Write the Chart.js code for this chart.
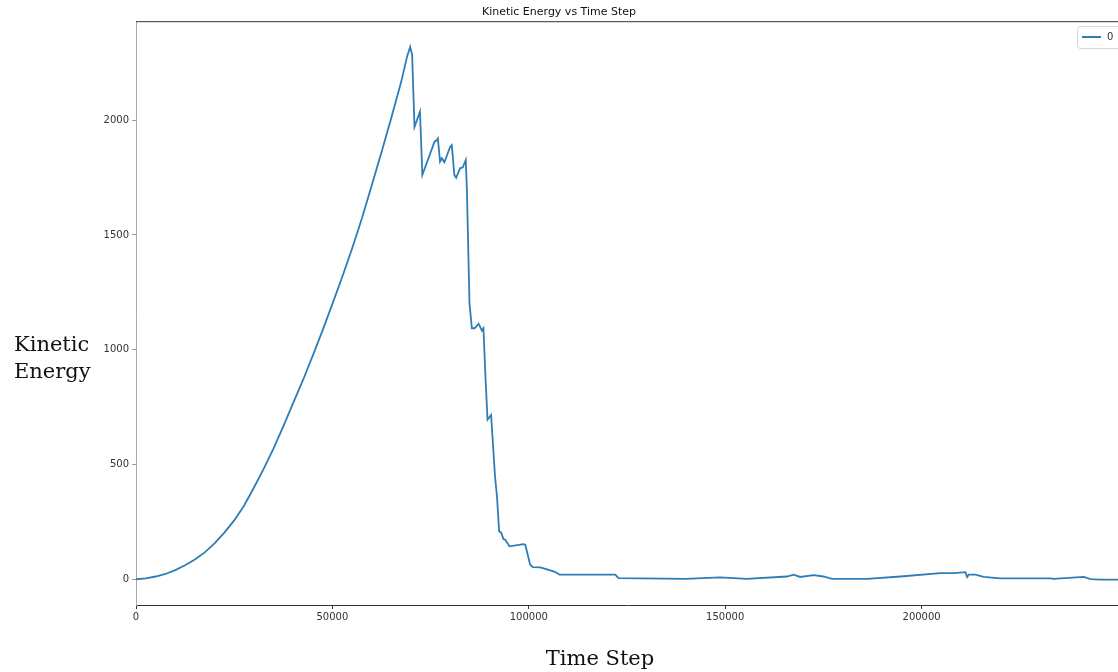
<!DOCTYPE html>
<html>
<head>
<meta charset="utf-8">
<script src="https://cdn.jsdelivr.net/npm/chart.js@4/dist/chart.umd.min.js"></script>
<style>
  html, body { margin: 0; padding: 0; background: #fff; }
  #wrap { width: 1118px; height: 672px; position: relative; }
</style>
</head>
<body>
<div id="wrap"><canvas id="myChart" width="1118" height="672"></canvas></div>
<script>
const chartTitle = "Kinetic Energy vs Time Step";
const xTitle = "Time Step";
const yTitle = ["Kinetic", "Energy"];
const seriesName = "0";

// time step (x) and kinetic energy (y)
const steps = [
  0, 2500, 5000, 7500, 10000, 12500, 15000, 17500, 20000, 22500,
  25000, 27500, 30000, 32500, 35000, 37500, 40000, 42500, 45000, 47500,
  50000, 52500, 55000, 57500, 60000, 62500, 65000, 67500, 69000, 69800,
  70300, 70900, 72300, 72900, 76000, 76600, 76850, 77400, 77850, 78500,
  80000, 80400, 81050, 81500, 82500, 83200, 83950, 84250, 84900, 85500,
  86200, 87200, 87600, 88050, 88450, 89000, 89500, 90400, 91400, 91900,
  92450, 92950, 93550, 94000, 95100, 98650, 99100, 100350, 101000, 102900,
  104200, 106300, 107300, 107800, 122000, 122850, 140000, 148750, 155500, 165700,
  167400, 169100, 172500, 175000, 177200, 186100, 194600, 204800, 208200, 211150,
  211600, 212000, 213700, 215800, 220000, 232800, 233600, 241300, 243000, 245500,
  250000
];
const energy = [
  2, 6, 14, 25, 42, 63, 88, 119, 158, 205,
  258, 322, 400, 482, 570, 667, 768, 868, 975, 1085,
  1200, 1317, 1440, 1572, 1715, 1860, 2010, 2165, 2275, 2318,
  2283, 1970, 2036, 1761, 1906, 1913, 1920, 1819, 1834, 1816,
  1884, 1891, 1761, 1749, 1790, 1794, 1826, 1696, 1203, 1094,
  1094, 1113, 1101, 1084, 1094, 870, 696, 717, 449, 362,
  210, 206, 177, 174, 145, 155, 152, 65, 55, 54,
  47, 36, 28, 22, 22, 7, 4, 10, 4, 14,
  22, 12, 20, 14, 4, 4, 14, 29, 29, 33,
  12, 22, 22, 12, 6, 6, 4, 12, 3, 0,
  0
];
const xTicks = [0, 50000, 100000, 150000, 200000];
const yTicks = [0, 500, 1000, 1500, 2000];

const lineColor = '#2f7db6';

const points = steps.map((s, i) => ({ x: s, y: energy[i] }));

// extra drawing: top spine, y label, x label, legend box
const extras = {
  id: 'extras',
  afterDraw(chart) {
    const ctx = chart.ctx;
    const a = chart.chartArea;
    ctx.save();
    ctx.strokeStyle = '#333';
    ctx.lineWidth = 1;
    ctx.beginPath();
    ctx.moveTo(a.left, a.top + 0.5);
    ctx.lineTo(a.right, a.top + 0.5);
    ctx.stroke();

    ctx.fillStyle = '#111';
    ctx.font = '21px "DejaVu Serif"';
    ctx.textAlign = 'left';
    ctx.textBaseline = 'alphabetic';
    ctx.fillText(yTitle[0], 14, 351);
    ctx.fillText(yTitle[1], 14, 378);
    ctx.textAlign = 'center';
    ctx.fillText(xTitle, 600, 665);

    // legend
    const bx = 1077, by = 26, bw = 50, bh = 22;
    ctx.fillStyle = 'rgba(255,255,255,0.9)';
    ctx.strokeStyle = '#d6d6d6';
    ctx.beginPath();
    ctx.roundRect(bx + 0.5, by + 0.5, bw, bh, 3);
    ctx.fill();
    ctx.stroke();
    ctx.strokeStyle = lineColor;
    ctx.lineWidth = 2;
    ctx.beginPath();
    ctx.moveTo(bx + 5, by + 11);
    ctx.lineTo(bx + 24, by + 11);
    ctx.stroke();
    ctx.fillStyle = '#333';
    ctx.font = '10px "DejaVu Sans"';
    ctx.textAlign = 'left';
    ctx.textBaseline = 'middle';
    ctx.fillText(chart.data.datasets[0].label, bx + 30, by + 11);
    ctx.restore();
  }
};

const ctx = document.getElementById('myChart').getContext('2d');
const chart = new Chart(ctx, {
  type: 'line',
  data: {
    datasets: [{
      label: seriesName,
      data: points,
      borderColor: lineColor,
      backgroundColor: lineColor,
      borderWidth: 1.8,
      pointRadius: 0,
      tension: 0,
      fill: false
    }]
  },
  options: {
    responsive: false,
    animation: false,
    layout: { padding: { left: 0, right: 0, top: 0, bottom: 0 } },
    plugins: {
      legend: { display: false },
      tooltip: { enabled: false },
      title: {
        display: true,
        text: chartTitle,
        color: '#111',
        font: { family: 'DejaVu Sans', size: 11, weight: 'normal' },
        padding: { top: 6, bottom: 2 }
      }
    },
    scales: {
      x: {
        type: 'linear',
        min: 0,
        max: 250000,
        afterBuildTicks: (s) => { s.ticks = xTicks.map(v => ({ value: v })); },
        afterFit: (s) => { s.height = 67; },
        ticks: {
          color: '#333',
          font: { family: 'DejaVu Sans', size: 10 },
          padding: 2,
          maxRotation: 0,
          callback: (v) => String(v)
        },
        grid: { display: true, drawOnChartArea: false, drawTicks: true, tickLength: 4, color: '#333' },
        border: { display: true, color: '#333', width: 1 }
      },
      y: {
        type: 'linear',
        min: -110,
        max: 2430,
        afterBuildTicks: (s) => { s.ticks = yTicks.map(v => ({ value: v })); },
        afterFit: (s) => { s.width = 136; },
        ticks: {
          color: '#333',
          font: { family: 'DejaVu Sans', size: 10 },
          padding: 3,
          callback: (v) => String(v)
        },
        grid: { display: true, drawOnChartArea: false, drawTicks: true, tickLength: 4, color: '#999' },
        border: { display: true, color: '#aaa', width: 1 }
      }
    }
  },
  plugins: [extras]
});
</script>
</body>
</html>
